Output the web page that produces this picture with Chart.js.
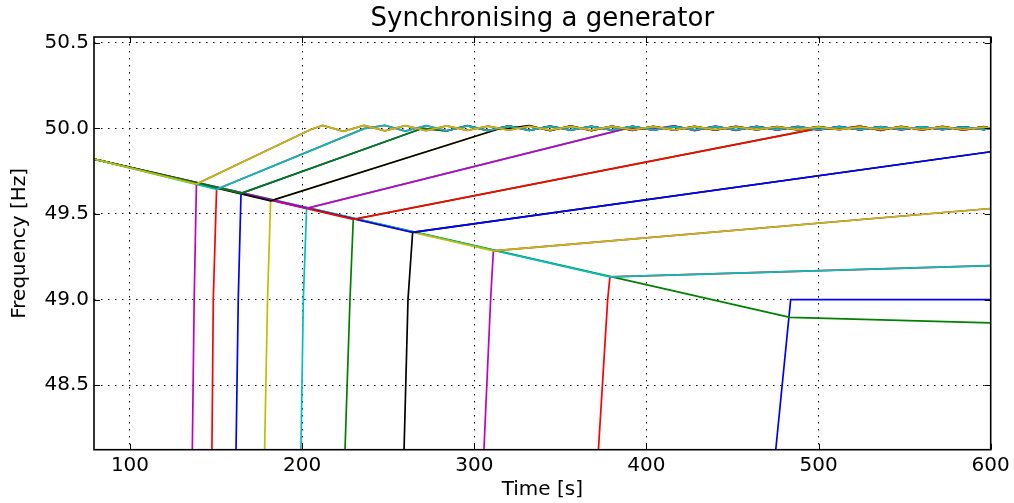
<!DOCTYPE html>
<html>
<head>
<meta charset="utf-8">
<title>Synchronising a generator</title>
<script src="https://cdn.jsdelivr.net/npm/chart.js@4.4.0/dist/chart.umd.min.js"></script>
<style>
    html, body { margin: 0; padding: 0; background: #fff; }
    #wrap { width: 1014px; height: 503px; }
</style>
</head>
<body>
<div id="wrap"><canvas id="chart" width="1014" height="503"></canvas></div>
<script>
// ===== DATA =====
const xTicks = [100, 200, 300, 400, 500, 600];
const yTicks = [48.5, 49.0, 49.5, 50.0, 50.5];

// times of the swings around 50 Hz after a run has recovered
const oscT = [224, 236, 248, 260, 272, 284, 296, 308, 320, 332, 344, 356, 368, 380, 392, 404,
    416, 428, 440, 452, 464, 476, 488, 500, 512, 524, 536, 548, 560, 572, 584, 596, 600];

// grid frequency [t, Hz] for each run (run 1 = earliest synchronisation)
const grid1Path = [[79.1, 49.82], [138.6, 49.675], [205, 49.993], [212, 50.017]];
const grid2Path = [[79.1, 49.82], [150.3, 49.644], [236, 49.998]];
const grid3Path = [[79.1, 49.82], [164.5, 49.62], [270, 50.0]];
const grid4Path = [[79.1, 49.82], [181.7, 49.577], [314, 49.996]];
const grid5Path = [[79.1, 49.82], [202.6, 49.533], [388, 49.998]];
const grid6Path = [[79.1, 49.82], [229.7, 49.468], [499, 49.998]];
const grid7Path = [[79.1, 49.82], [264.2, 49.393], [600, 49.863]];
const grid8Path = [[79.1, 49.82], [311.1, 49.285], [600, 49.532]];
const grid9Path = [[79.1, 49.82], [378.8, 49.133], [600, 49.198]];
const grid10Path = [[79.1, 49.82], [483.4, 48.896], [600, 48.864]];

// swings around 50 Hz, starting at oscT[from]
const grid1Osc = [49.982, 50.017, 49.985, 50.015, 49.987, 50.014, 49.988, 50.013, 49.989, 50.012, 49.99,
    50.011, 49.99, 50.011, 49.991, 50.01, 49.991, 50.01, 49.992, 50.009, 49.992, 50.009, 49.992,
    50.008, 49.992, 50.008, 49.993, 50.008, 49.993, 50.008, 49.993, 50.007, 50.0];
const grid2Osc = [50.017, 49.984, 50.015, 49.986, 50.014, 49.987, 50.013, 49.988, 50.012, 49.989, 50.011,
    49.99, 50.011, 49.99, 50.01, 49.991, 50.01, 49.991, 50.009, 49.992, 50.009, 49.992, 50.008,
    49.992, 50.008, 49.993, 50.008, 49.993, 50.007, 49.993, 50.0];
const grid3Osc = [49.985, 50.015, 49.987, 50.014, 49.988, 50.013, 49.989, 50.012, 49.99, 50.011, 49.99,
    50.011, 49.991, 50.01, 49.991, 50.01, 49.992, 50.009, 49.992, 50.009, 49.992, 50.008, 49.993,
    50.008, 49.993, 50.008, 49.993, 50.0];
const grid4Osc = [50.0, 50.016, 49.986, 50.014, 49.987, 50.013, 49.988, 50.012, 49.989, 50.011, 49.99,
    50.011, 49.991, 50.01, 49.991, 50.01, 49.992, 50.009, 49.992, 50.009, 49.993, 50.008, 49.993,
    50.008, 50.0];
const grid5Osc = [49.995, 50.015, 49.987, 50.013, 49.988, 50.012, 49.989, 50.011, 49.99, 50.011, 49.991,
    50.01, 49.991, 50.009, 49.992, 50.009, 49.992, 50.0];
const grid6Osc = [49.995, 50.013, 49.988, 50.012, 49.989, 50.011, 49.99, 50.01, 50.0];

// generator frequency run-up [t, Hz] until it meets the grid
const gen1Ramp = [[136.2, 48.12], [137.3, 49.0], [138.6, 49.675]];
const gen2Ramp = [[147.6, 48.12], [148.4, 49.0], [150.3, 49.644]];
const gen3Ramp = [[161.6, 48.12], [162.9, 49.0], [164.5, 49.62]];
const gen4Ramp = [[178.2, 48.12], [179.9, 49.0], [181.7, 49.577]];
const gen5Ramp = [[199.3, 48.12], [200.7, 49.0], [202.6, 49.533]];
const gen6Ramp = [[224.9, 48.12], [227.8, 49.0], [229.7, 49.468]];
const gen7Ramp = [[259.2, 48.12], [261.5, 49.0], [264.2, 49.393]];
const gen8Ramp = [[305.6, 48.12], [309.5, 49.0], [311.1, 49.285]];
const gen9Ramp = [[372.1, 48.12], [377.5, 49.0], [378.8, 49.133]];
const gen10Ramp = [[475.1, 48.12], [483.8, 49.0], [600, 49.0]];

const runs = [
    { path: grid1Path, osc: grid1Osc, from: 0, gen: gen1Ramp, follow: true },
    { path: grid2Path, osc: grid2Osc, from: 2, gen: gen2Ramp, follow: true },
    { path: grid3Path, osc: grid3Osc, from: 5, gen: gen3Ramp, follow: true },
    { path: grid4Path, osc: grid4Osc, from: 8, gen: gen4Ramp, follow: true },
    { path: grid5Path, osc: grid5Osc, from: 15, gen: gen5Ramp, follow: true },
    { path: grid6Path, osc: grid6Osc, from: 24, gen: gen6Ramp, follow: true },
    { path: grid7Path, osc: null, from: 0, gen: gen7Ramp, follow: true },
    { path: grid8Path, osc: null, from: 0, gen: gen8Ramp, follow: true },
    { path: grid9Path, osc: null, from: 0, gen: gen9Ramp, follow: true },
    { path: grid10Path, osc: null, from: 0, gen: gen10Ramp, follow: false }
];

// ===== STYLE =====
const C = { b: '#0000ff', g: '#008000', r: '#ff0000', c: '#00bfbf', m: '#bf00bf', y: '#bfbf00', k: '#000000' };
// [grid colour, generator colour] per run
const runColors = [['y', 'm'], ['c', 'r'], ['g', 'b'], ['k', 'y'], ['m', 'c'],
    ['r', 'g'], ['b', 'k'], ['y', 'm'], ['c', 'r'], ['g', 'b']];
const FONT = 'DejaVu Sans';

// ===== BUILD DATASETS =====
function toPoints(list) {
    return list.map(p => ({ x: p[0], y: p[1] }));
}

function gridPoints(run) {
    const pts = toPoints(run.path);
    if (run.osc) {
        run.osc.forEach((v, i) => pts.push({ x: oscT[run.from + i], y: v }));
    }
    return pts;
}

function genPoints(run, grid) {
    const pts = toPoints(run.gen);
    if (run.follow) {
        // once synchronised the generator runs with the grid
        const lastT = run.gen[run.gen.length - 1][0];
        grid.forEach(p => { if (p.x > lastT) pts.push(p); });
    }
    return pts;
}

function lineSet(label, data, color) {
    return {
        label: label,
        data: data,
        borderColor: color,
        backgroundColor: color,
        borderWidth: 1.7,
        pointRadius: 0,
        tension: 0,
        fill: false
    };
}

// first dataset is drawn on top, so run 1 comes first
const datasets = [];
runs.forEach((run, i) => {
    const grid = gridPoints(run);
    datasets.push(lineSet('Grid ' + (i + 1), grid, C[runColors[i][0]]));
    datasets.push(lineSet('Generator ' + (i + 1), genPoints(run, grid), C[runColors[i][1]]));
});

// frame and inward ticks on all four sides
const frameTicks = {
    id: 'frameTicks',
    afterDraw(chart) {
        const { ctx, chartArea: a, scales: { x, y } } = chart;
        const len = 6;
        ctx.save();
        ctx.strokeStyle = '#000';
        ctx.lineWidth = 1;
        ctx.beginPath();
        xTicks.forEach(v => {
            const px = Math.round(x.getPixelForValue(v)) + 0.5;
            ctx.moveTo(px, a.bottom); ctx.lineTo(px, a.bottom - len);
            ctx.moveTo(px, a.top); ctx.lineTo(px, a.top + len);
        });
        yTicks.forEach(v => {
            const py = Math.round(y.getPixelForValue(v)) + 0.5;
            ctx.moveTo(a.left, py); ctx.lineTo(a.left + len, py);
            ctx.moveTo(a.right, py); ctx.lineTo(a.right - len, py);
        });
        ctx.stroke();
        ctx.lineWidth = 1.6;
        ctx.strokeRect(a.left, a.top, a.right - a.left, a.bottom - a.top);
        ctx.restore();
    }
};

Chart.defaults.font.family = FONT;
Chart.defaults.color = '#000';

new Chart(document.getElementById('chart').getContext('2d'), {
    type: 'line',
    data: { datasets: datasets },
    options: {
        responsive: false,
        animation: false,
        devicePixelRatio: 1,
        layout: { padding: { left: 0, right: 23.3, top: 0, bottom: 0 } },
        plugins: {
            legend: { display: false },
            tooltip: { enabled: false },
            title: {
                display: true,
                fullSize: false,
                text: 'Synchronising a generator',
                color: '#000',
                font: { family: FONT, size: 26, weight: 'normal', lineHeight: 1.2 },
                padding: { top: 4, bottom: 1.8 }
            }
        },
        scales: {
            x: {
                type: 'linear',
                min: 79.1,
                max: 600,
                afterBuildTicks: s => { s.ticks = xTicks.map(v => ({ value: v })); },
                afterFit: s => { s.height = 53.3; },
                ticks: {
                    autoSkip: false,
                    maxRotation: 0,
                    padding: 4,
                    color: '#000',
                    font: { family: FONT, size: 20 },
                    callback: v => String(v)
                },
                grid: { color: '#000', lineWidth: 1, drawTicks: false },
                border: { display: false, dash: [1.5, 5.5] },
                title: {
                    display: true,
                    text: 'Time [s]',
                    color: '#000',
                    font: { family: FONT, size: 20, lineHeight: 1.2 },
                    padding: { top: 0, bottom: 1 }
                }
            },
            y: {
                type: 'linear',
                min: 48.124,
                max: 50.533,
                afterBuildTicks: s => { s.ticks = yTicks.map(v => ({ value: v })); },
                afterFit: s => { s.width = 94; },
                ticks: {
                    autoSkip: false,
                    padding: 5,
                    color: '#000',
                    font: { family: FONT, size: 20 },
                    callback: v => Number(v).toFixed(1)
                },
                grid: { color: '#000', lineWidth: 1, drawTicks: false },
                border: { display: false, dash: [1.5, 5.5] },
                title: {
                    display: true,
                    text: 'Frequency [Hz]',
                    color: '#000',
                    font: { family: FONT, size: 20, lineHeight: 1.2 },
                    padding: { top: 8, bottom: 0 }
                }
            }
        }
    },
    plugins: [frameTicks]
});
</script>
</body>
</html>
